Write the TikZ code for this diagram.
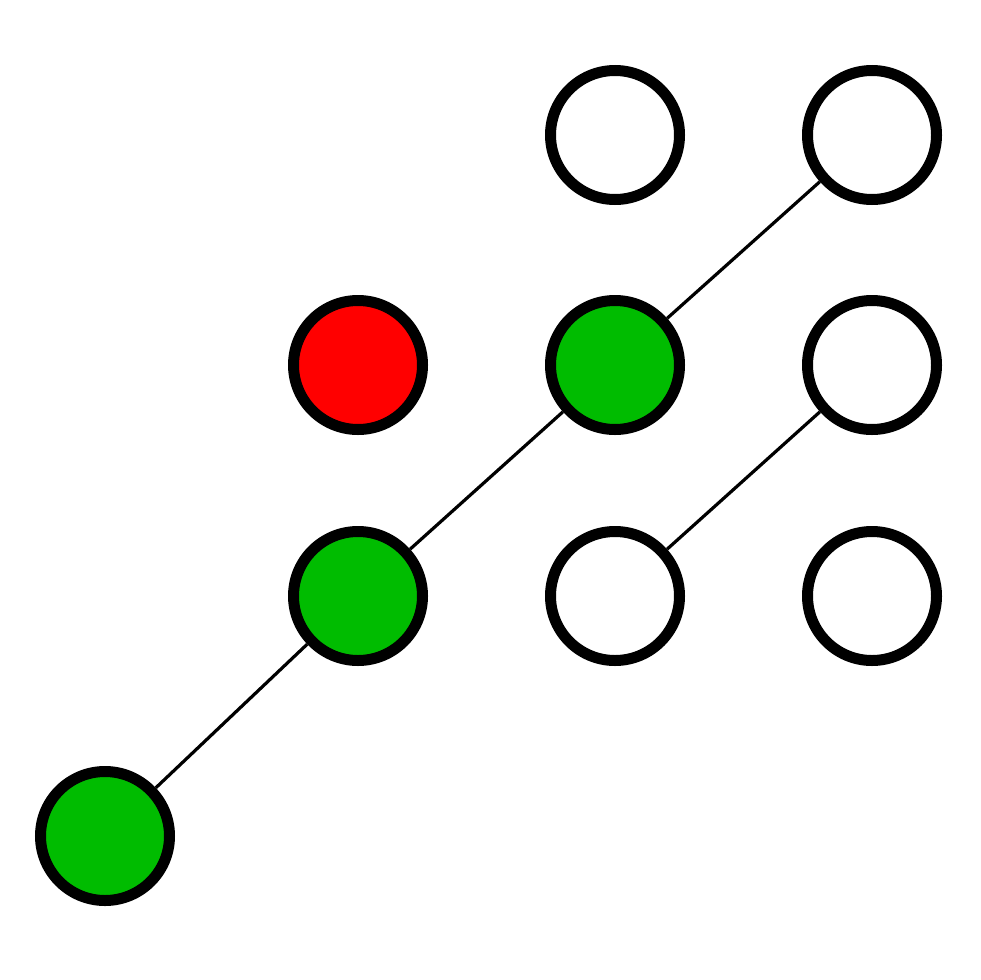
\documentclass[tikz,border=0pt]{standalone}
\begin{document}
\begin{tikzpicture}[x=1pt,y=-1pt,
  dot/.style={circle,draw=black,line width=11pt,minimum size=129pt,inner sep=0pt},
  greendot/.style={dot,fill=dotgreen},
  reddot/.style={dot,fill=dotred},
  whitedot/.style={dot,fill=white},
  link/.style={line width=3.2pt,draw=black}]
\definecolor{dotgreen}{RGB}{0,188,0}
\definecolor{dotred}{RGB}{255,0,0}
\useasboundingbox (0,0) rectangle (980,980);
\node[whitedot] (w11) at (615,135) {};
\node[whitedot] (w12) at (872,135) {};
\node[reddot] (r21) at (358,365) {};
\node[greendot] (g22) at (615,365) {};
\node[whitedot] (w23) at (872,365) {};
\node[greendot] (g31) at (358,596) {};
\node[whitedot] (w32) at (615,596) {};
\node[whitedot] (w33) at (872,596) {};
\node[greendot] (g41) at (105,836) {};
\draw[link] (g41) -- (g31);
\draw[link] (g31) -- (g22);
\draw[link] (g22) -- (w12);
\draw[link] (w32) -- (w23);
\end{tikzpicture}
\end{document}
